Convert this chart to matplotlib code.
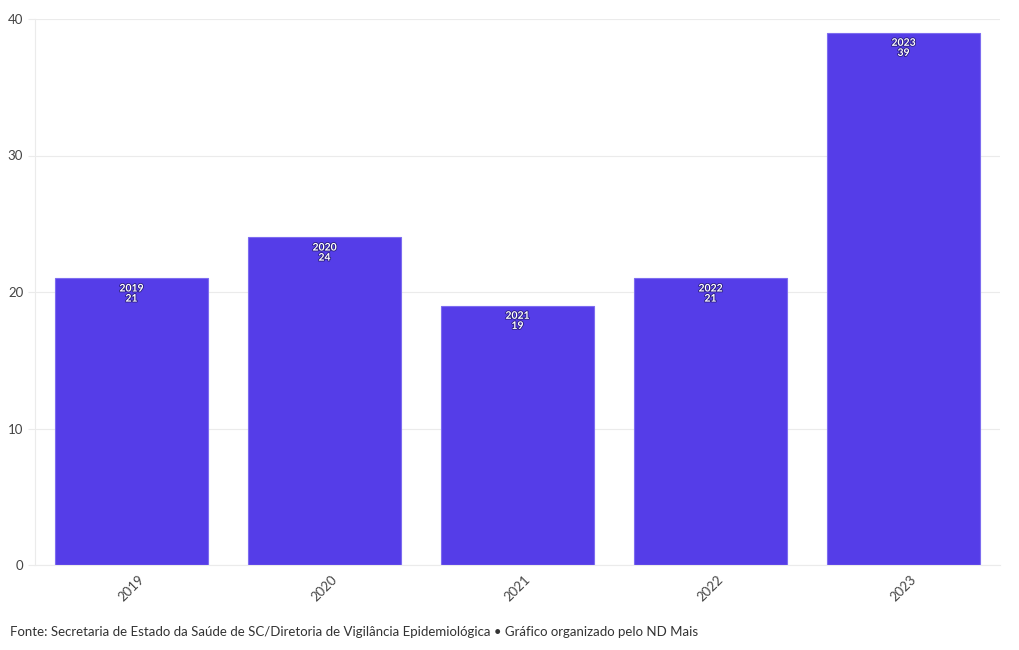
import matplotlib
matplotlib.use('Agg')
import matplotlib.pyplot as plt
import matplotlib.patheffects as pe
import numpy as np

# data
years = ['2019', '2020', '2021', '2022', '2023']
cases = [21, 24, 19, 21, 39]
yticks = [0, 10, 20, 30, 40]
source = ('Fonte: Secretaria de Estado da Saúde de SC/Diretoria de Vigilância '
          'Epidemiológica • Gráfico organizado pelo ND Mais')

plt.rcParams['font.family'] = ['Lato', 'DejaVu Sans']

fig = plt.figure(figsize=(10.2, 6.5), dpi=100)
ax = fig.add_axes([35 / 1020, 1 - 565 / 650, 965 / 1020, 546 / 650])

x = np.arange(len(years))
bars = ax.bar(x, cases, width=0.79, color='#553de8', edgecolor='#7d6cf0',
              linewidth=0.8, zorder=2)

# labels inside the bars
for xi, yr, v in zip(x, years, cases):
    for dy, txt in ((0.78, yr), (1.52, str(v))):
        ax.text(xi, v - dy, txt, ha='center', va='center', color='white',
                fontsize=7.5, fontweight='bold', zorder=3,
                path_effects=[pe.withStroke(linewidth=1.2, foreground='#2a1d80')])

ax.set_xlim(-0.5, len(years) - 0.5)
ax.set_ylim(0, 40)
ax.set_yticks(yticks)
ax.set_xticks(x)
ax.set_xticklabels(years, rotation=45, ha='center', va='top')
ax.yaxis.grid(True, color='#ebebeb', linewidth=0.8, zorder=0)
ax.set_axisbelow(True)

for side in ('top', 'right'):
    ax.spines[side].set_visible(False)
ax.spines['left'].set_color('#ebebeb')
ax.spines['bottom'].set_color('#ebebeb')
ax.tick_params(axis='both', colors='#ebebeb', labelcolor='#444444',
               labelsize=9.5, length=5, width=0.8)
ax.tick_params(axis='x', length=0, pad=6)

fig.text(10 / 1020, 1 - 632 / 650, source, ha='left', va='center',
         fontsize=9.5, color='#333333')

plt.savefig('out.png', dpi=100)
